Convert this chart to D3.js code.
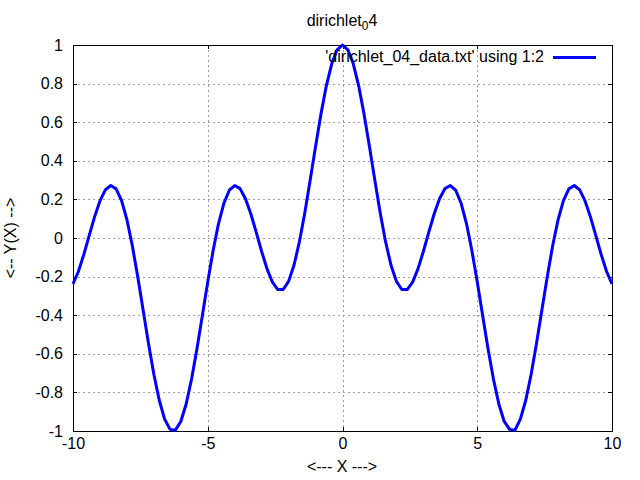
<!DOCTYPE html>
<html><head><meta charset="utf-8">
<script src="https://cdn.jsdelivr.net/npm/d3@7"></script>
<style>body{margin:0;background:#fff}svg{display:block}text{font-family:"Liberation Sans",Arial,sans-serif;font-size:16px;fill:#000}</style>
</head><body><svg id="c" width="640" height="480"></svg>
<script>
const xValues = [-10,-9.8,-9.6,-9.4,-9.2,-9,-8.8,-8.6,-8.4,-8.2,-8,-7.8,-7.6,-7.4,-7.2,-7,-6.8,-6.6,-6.4,-6.2,-6,-5.8,-5.6,-5.4,-5.2,-5,-4.8,-4.6,-4.4,-4.2,-4,-3.8,-3.6,-3.4,-3.2,-3,-2.8,-2.6,-2.4,-2.2,-2,-1.8,-1.6,-1.4,-1.2,-1,-0.8,-0.6,-0.4,-0.2,0,0.2,0.4,0.6,0.8,1,1.2,1.4,1.6,1.8,2,2.2,2.4,2.6,2.8,3,3.2,3.4,3.6,3.8,4,4.2,4.4,4.6,4.8,5,5.2,5.4,5.6,5.8,6,6.2,6.4,6.6,6.8,7,7.2,7.4,7.6,7.8,8,8.2,8.4,8.6,8.8,9,9.2,9.4,9.6,9.8,10];
const yValues = [-0.2381,-0.1736,-0.0862,0.0124,0.1094,0.1921,0.2493,0.2720,0.2546,0.1950,0.0951,-0.0392,-0.1988,-0.3719,-0.5456,-0.7060,-0.8405,-0.9383,-0.9915,-0.9956,-0.9506,-0.8598,-0.7308,-0.5738,-0.4015,-0.2273,-0.0645,0.0748,0.1808,0.2475,0.2720,0.2557,0.2038,0.1245,0.0291,-0.0700,-0.1602,-0.2292,-0.2672,-0.2669,-0.2248,-0.1412,-0.0203,0.1300,0.2991,0.4742,0.6417,0.7885,0.9027,0.9752,1,0.9752,0.9027,0.7885,0.6417,0.4742,0.2991,0.1300,-0.0203,-0.1412,-0.2248,-0.2669,-0.2672,-0.2292,-0.1602,-0.0700,0.0291,0.1245,0.2038,0.2557,0.2720,0.2475,0.1808,0.0748,-0.0645,-0.2273,-0.4015,-0.5738,-0.7308,-0.8598,-0.9506,-0.9915,-0.9956,-0.9383,-0.8405,-0.7060,-0.5456,-0.3719,-0.1988,-0.0392,0.0951,0.1950,0.2546,0.2720,0.2493,0.1921,0.1094,0.0124,-0.0862,-0.1736,-0.2381];
const xTicks = [-10,-5,0,5,10];
const yTicks = [-1,-0.8,-0.6,-0.4,-0.2,0,0.2,0.4,0.6,0.8,1];
const legendLabel = "'dirichlet_04_data.txt' using 1:2";
const xLabel = "<--- X --->";
const yLabel = "<-- Y(X) -->";

const svg = d3.select("#c");
const L=73,R=612,T=45,B=431;
const x = d3.scaleLinear().domain([-10,10]).range([L,R]);
const y = d3.scaleLinear().domain([-1,1]).range([B,T]);
const fmt = d => String(+d.toFixed(1));

// grid
const g = svg.append("g");
g.selectAll(".gx").data(xTicks.slice(1,-1)).enter().append("line")
 .attr("x1",d=>Math.round(x(d))+0.5).attr("x2",d=>Math.round(x(d))+0.5).attr("y1",T).attr("y2",B)
 .attr("stroke","#a0a0a0").attr("stroke-width",1).attr("stroke-dasharray","2,3");
g.selectAll(".gy").data(yTicks.slice(1,-1)).enter().append("line")
 .attr("y1",d=>Math.round(y(d))+0.5).attr("y2",d=>Math.round(y(d))+0.5).attr("x1",L).attr("x2",R)
 .attr("stroke","#a0a0a0").attr("stroke-width",1).attr("stroke-dasharray","2,3");

// axes tick labels
const xa = d3.axisBottom(x).tickValues(xTicks).tickSize(0).tickPadding(7).tickFormat(fmt);
svg.append("g").attr("transform",`translate(0,${B})`).call(xa)
 .call(s=>s.select(".domain").remove())
 .call(s=>s.selectAll("text").attr("font-size",16).attr("font-family","Liberation Sans, Arial, sans-serif").attr("fill","#000"));
const ya = d3.axisLeft(y).tickValues(yTicks).tickSize(0).tickPadding(10).tickFormat(fmt);
svg.append("g").attr("transform",`translate(${L},0)`).call(ya)
 .call(s=>s.select(".domain").remove())
 .call(s=>s.selectAll("text").attr("font-size",16).attr("font-family","Liberation Sans, Arial, sans-serif").attr("fill","#000"));

// small inward tick marks
const tk = svg.append("g").attr("stroke","#000").attr("stroke-width",1);
xTicks.forEach(v=>{const xx=Math.round(x(v))+0.5;tk.append("line").attr("x1",xx).attr("x2",xx).attr("y1",B).attr("y2",B-4);
 tk.append("line").attr("x1",xx).attr("x2",xx).attr("y1",T).attr("y2",T+4);});
yTicks.forEach(v=>{const yy=Math.round(y(v))+0.5;tk.append("line").attr("x1",L).attr("x2",L+4).attr("y1",yy).attr("y2",yy);
 tk.append("line").attr("x1",R).attr("x2",R-4).attr("y1",yy).attr("y2",yy);});

// border
svg.append("rect").attr("x",L+0.5).attr("y",T+0.5).attr("width",R-L).attr("height",B-T)
 .attr("fill","none").attr("stroke","#000").attr("stroke-width",1);

// curve
const data = xValues.map((v,i)=>[v,yValues[i]]);
svg.append("path").datum(data)
 .attr("d",d3.line().x(d=>x(d[0])).y(d=>y(d[1])))
 .attr("fill","none").attr("stroke","#0000ff").attr("stroke-width",3).attr("stroke-linejoin","round");

// legend
svg.append("text").attr("x",544).attr("y",62).attr("text-anchor","end").text(legendLabel);
svg.append("line").attr("x1",553).attr("x2",596).attr("y1",57.5).attr("y2",57.5).attr("stroke","#0000ff").attr("stroke-width",3);

// title with subscript
const t = svg.append("text").attr("x",342).attr("y",26).attr("text-anchor","middle");
t.append("tspan").text("dirichlet");
t.append("tspan").attr("font-size",12).attr("dy",4).text("0");
t.append("tspan").attr("dy",-4).text("4");

// axis labels
svg.append("text").attr("x",342).attr("y",472).attr("text-anchor","middle").text(xLabel);
svg.append("text").attr("transform","translate(16,238) rotate(-90)").attr("text-anchor","middle").text(yLabel);
</script></body></html>
